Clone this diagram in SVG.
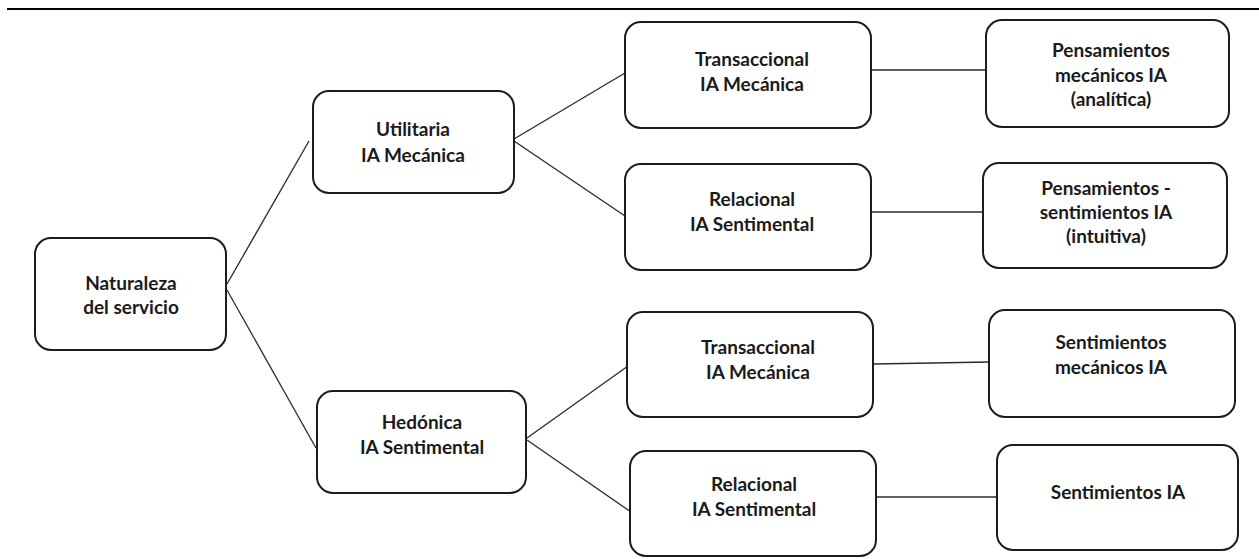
<svg xmlns="http://www.w3.org/2000/svg" width="1259" height="559" viewBox="0 0 1259 559">
  <style>
    .box { fill: #ffffff; stroke: #1c1c1c; stroke-width: 2; }
    .link { stroke: #2a2a2a; stroke-width: 1.3; fill: none; }
    .label { font-family: Lato, "Open Sans", sans-serif; font-weight: 700; font-size: 19px; fill: #1a1a1a; text-anchor: middle; }
  </style>
  <rect width="1259" height="559" fill="#ffffff"/>
  <!-- header rule -->
  <line x1="7" y1="9" x2="1259" y2="9" stroke="#000000" stroke-width="2.2"/>

  <g id="connectors">
    <line class="link" x1="227" y1="284" x2="309" y2="141"/>
    <line class="link" x1="227" y1="290" x2="316" y2="448"/>
    <line class="link" x1="514" y1="139" x2="625" y2="73"/>
    <line class="link" x1="514" y1="141" x2="625" y2="216"/>
    <line class="link" x1="872" y1="70" x2="987" y2="70"/>
    <line class="link" x1="872" y1="212" x2="984" y2="212"/>
    <line class="link" x1="527" y1="438" x2="628" y2="366"/>
    <line class="link" x1="527" y1="440" x2="631" y2="512"/>
    <line class="link" x1="874" y1="364" x2="989" y2="362"/>
    <line class="link" x1="877" y1="497" x2="996" y2="497"/>
  </g>

  <g id="naturaleza">
    <rect class="box" x="35" y="238" width="191" height="112" rx="16"/>
    <text class="label" x="131" y="290">Naturaleza</text>
    <text class="label" x="131" y="314">del servicio</text>
  </g>

  <g id="utilitaria">
    <rect class="box" x="313" y="91" width="201" height="102" rx="16"/>
    <text class="label" x="413" y="136">Utilitaria</text>
    <text class="label" x="413" y="162">IA Mecánica</text>
  </g>

  <g id="hedonica">
    <rect class="box" x="317" y="391" width="209" height="102" rx="16"/>
    <text class="label" x="422" y="429">Hedónica</text>
    <text class="label" x="422" y="454">IA Sentimental</text>
  </g>

  <g id="transaccional-1">
    <rect class="box" x="625" y="22" width="246" height="106" rx="16"/>
    <text class="label" x="752" y="66">Transaccional</text>
    <text class="label" x="752" y="91">IA Mecánica</text>
  </g>

  <g id="relacional-1">
    <rect class="box" x="625" y="164" width="246" height="106" rx="16"/>
    <text class="label" x="752" y="206">Relacional</text>
    <text class="label" x="752" y="231">IA Sentimental</text>
  </g>

  <g id="transaccional-2">
    <rect class="box" x="627" y="312" width="246" height="105" rx="16"/>
    <text class="label" x="758" y="354">Transaccional</text>
    <text class="label" x="758" y="379">IA Mecánica</text>
  </g>

  <g id="relacional-2">
    <rect class="box" x="630" y="451" width="246" height="105" rx="16"/>
    <text class="label" x="754" y="491">Relacional</text>
    <text class="label" x="754" y="516">IA Sentimental</text>
  </g>

  <g id="pensamientos-mecanicos">
    <rect class="box" x="986" y="20" width="243" height="107" rx="16"/>
    <text class="label" x="1111" y="57">Pensamientos</text>
    <text class="label" x="1111" y="82">mecánicos IA</text>
    <text class="label" x="1111" y="106">(analítica)</text>
  </g>

  <g id="pensamientos-sentimientos">
    <rect class="box" x="983" y="163" width="244" height="105" rx="16"/>
    <text class="label" x="1106" y="195">Pensamientos -</text>
    <text class="label" x="1106" y="219">sentimientos IA</text>
    <text class="label" x="1106" y="243">(intuitiva)</text>
  </g>

  <g id="sentimientos-mecanicos">
    <rect class="box" x="989" y="310" width="246" height="107" rx="16"/>
    <text class="label" x="1111" y="349">Sentimientos</text>
    <text class="label" x="1111" y="374">mecánicos IA</text>
  </g>

  <g id="sentimientos">
    <rect class="box" x="997" y="445" width="241" height="105" rx="16"/>
    <text class="label" x="1118" y="499">Sentimientos IA</text>
  </g>
</svg>
